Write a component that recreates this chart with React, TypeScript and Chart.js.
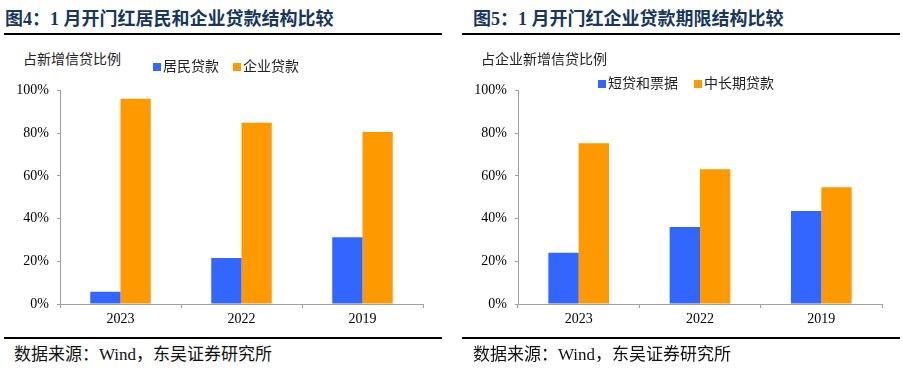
import React, { useEffect, useRef } from 'react';
import { Chart, registerables } from 'chart.js';

Chart.register(...registerables);

// ---- data ----
const categories = ['2023', '2022', '2019'];
const householdShare = [5.7, 21.5, 31.2];
const corporateShare = [96.1, 84.9, 80.5];
const shortTermShare = [24.0, 36.0, 43.5];
const longTermShare = [75.3, 63.1, 54.7];
const yTickValues = [0, 20, 40, 60, 80, 100];

const BLUE = '#3366FF';
const ORANGE = '#FF9900';
const AXIS = '#a0a0a0';
const FONT = '"Liberation Serif", "Noto Sans CJK SC", serif';
const TITLE_COLOR = '#17375E';

const CANVAS_TOP = 74;
const CANVAS_H = 261;

type PanelProps = {
  left: number;
  width: number;
  padRight: number;
  seriesA: number[];
  seriesB: number[];
  labelA: string;
  labelB: string;
};

function BarPanel({ left, width, padRight, seriesA, seriesB, labelA, labelB }: PanelProps) {
  const ref = useRef<HTMLCanvasElement>(null);
  useEffect(() => {
    const chart = new Chart(ref.current as HTMLCanvasElement, {
      type: 'bar',
      data: {
        labels: categories,
        datasets: [
          { label: labelA, data: seriesA, backgroundColor: BLUE, categoryPercentage: 0.5, barPercentage: 1 },
          { label: labelB, data: seriesB, backgroundColor: ORANGE, categoryPercentage: 0.5, barPercentage: 1 },
        ],
      },
      options: {
        animation: false,
        responsive: false,
        layout: { padding: { top: 3, right: padRight, bottom: 0, left: 0 } },
        plugins: { legend: { display: false }, tooltip: { enabled: false } },
        scales: {
          x: {
            grid: { display: true, drawOnChartArea: false, drawTicks: true, tickLength: 4, color: AXIS, offset: true },
            border: { display: true, color: AXIS, width: 1 },
            ticks: { font: { family: FONT, size: 14 }, color: '#000', padding: 3 },
            afterFit: (s: any) => { s.height = 31; },
          },
          y: {
            min: 0,
            max: 100,
            afterBuildTicks: (s: any) => { s.ticks = yTickValues.map((v) => ({ value: v })); },
            grid: { display: true, drawOnChartArea: false, drawTicks: true, tickLength: 3, color: AXIS },
            border: { display: true, color: AXIS, width: 1 },
            ticks: { font: { family: FONT, size: 14 }, color: '#000', padding: 8, callback: (v: any) => v + '%' },
            afterFit: (s: any) => { s.width = 60; },
          },
        },
      },
    });
    return () => chart.destroy();
  }, []);
  return (
    <canvas
      ref={ref}
      width={width}
      height={CANVAS_H}
      style={{ position: 'absolute', left, top: CANVAS_TOP, width, height: CANVAS_H, display: 'block' }}
    />
  );
}

function Legend({ left, top, items }: { left: number; top: number; items: { label: string; color: string; gap: number }[] }) {
  return (
    <div style={{ position: 'absolute', left, top, display: 'flex', alignItems: 'center', fontFamily: FONT, fontSize: 14, color: '#222', lineHeight: '16px', whiteSpace: 'nowrap' }}>
      {items.map((it, i) => (
        <div key={i} style={{ display: 'flex', alignItems: 'center', marginLeft: i === 0 ? 0 : it.gap }}>
          <span style={{ display: 'inline-block', width: 8, height: 8, background: it.color, marginRight: 2 }} />
          <span>{it.label}</span>
        </div>
      ))}
    </div>
  );
}

const textBase: React.CSSProperties = { position: 'absolute', whiteSpace: 'nowrap', fontFamily: FONT };

export default function App() {
  return (
    <div style={{ position: 'absolute', left: 0, top: 0, width: 903, height: 373, background: '#fff', overflow: 'hidden' }}>
      {/* Left panel */}
      <div style={{ ...textBase, left: 5, top: 8, fontSize: 18, fontWeight: 700, color: TITLE_COLOR, lineHeight: '22px' }}>图4：1 月开门红居民和企业贷款结构比较</div>
      <div style={{ position: 'absolute', left: 4, top: 33, width: 438, height: 2, background: '#000' }} />
      <div style={{ ...textBase, left: 23, top: 51, fontSize: 14, color: '#222', lineHeight: '18px' }}>占新增信贷比例</div>
      <BarPanel left={0} width={450} padRight={27} seriesA={householdShare} seriesB={corporateShare} labelA="居民贷款" labelB="企业贷款" />
      <Legend left={153} top={59} items={[{ label: '居民贷款', color: BLUE, gap: 0 }, { label: '企业贷款', color: ORANGE, gap: 14 }]} />
      <div style={{ position: 'absolute', left: 4, top: 337, width: 438, height: 2, background: '#000' }} />
      <div style={{ ...textBase, left: 14, top: 345, fontSize: 17, color: '#111', lineHeight: '20px' }}>数据来源：Wind，东吴证券研究所</div>

      {/* Right panel */}
      <div style={{ ...textBase, left: 473, top: 8, fontSize: 18, fontWeight: 700, color: TITLE_COLOR, lineHeight: '22px' }}>图5：1 月开门红企业贷款期限结构比较</div>
      <div style={{ position: 'absolute', left: 462, top: 33, width: 438, height: 2, background: '#000' }} />
      <div style={{ ...textBase, left: 481, top: 51, fontSize: 14, color: '#222', lineHeight: '18px' }}>占企业新增信贷比例</div>
      <BarPanel left={458} width={445} padRight={21} seriesA={shortTermShare} seriesB={longTermShare} labelA="短贷和票据" labelB="中长期贷款" />
      <Legend left={598} top={76} items={[{ label: '短贷和票据', color: BLUE, gap: 0 }, { label: '中长期贷款', color: ORANGE, gap: 16 }]} />
      <div style={{ position: 'absolute', left: 462, top: 337, width: 438, height: 2, background: '#000' }} />
      <div style={{ ...textBase, left: 473, top: 345, fontSize: 17, color: '#111', lineHeight: '20px' }}>数据来源：Wind，东吴证券研究所</div>
    </div>
  );
}
